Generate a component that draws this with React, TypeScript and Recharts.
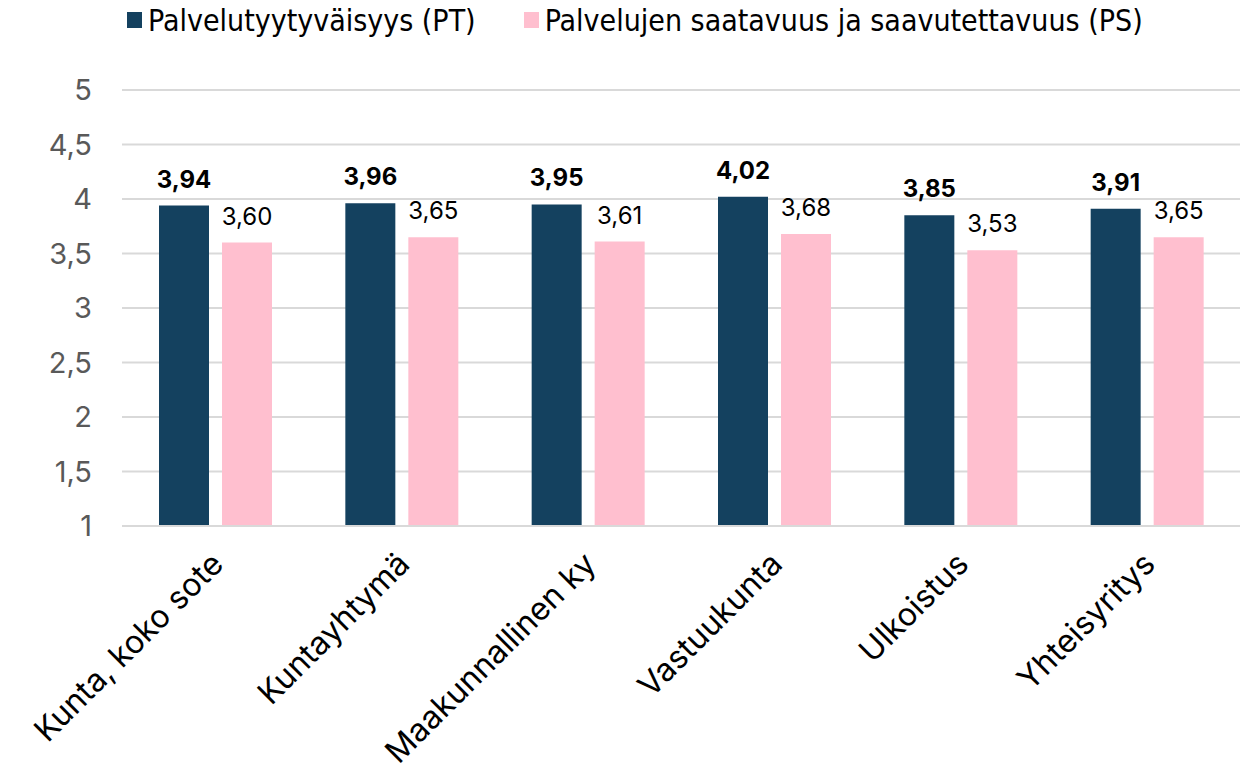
import React from 'react';
import { BarChart, Bar, XAxis, YAxis, CartesianGrid, Legend, LabelList } from 'recharts';

const categories = ['Kunta, koko sote', 'Kuntayhtymä', 'Maakunnallinen ky', 'Vastuukunta', 'Ulkoistus', 'Yhteisyritys'];
const ptValues = [3.94, 3.96, 3.95, 4.02, 3.85, 3.91];
const psValues = [3.60, 3.65, 3.61, 3.68, 3.53, 3.65];
const yTicks = [1, 1.5, 2, 2.5, 3, 3.5, 4, 4.5, 5];
const seriesNames = ['Palvelutyytyväisyys (PT)', 'Palvelujen saatavuus ja saavutettavuus (PS)'];

const data = categories.map((c, i) => ({ name: c, pt: ptValues[i], ps: psValues[i] }));

const DARK = '#14415F';
const PINK = '#FFBFCF';
const FONT = 'Inter, "Noto Sans", sans-serif';

const fmt = (v: number) => String(v).replace('.', ',');
const fmt2 = (v: number) => v.toFixed(2).replace('.', ',');

const XTick = (props: any) => {
  const { x, y, payload } = props;
  const ax = x + 10;
  const ay = y + 32;
  return (
    <text
      x={ax}
      y={ay}
      transform={`rotate(-45 ${ax} ${ay})`}
      textAnchor="end"
      fontSize={32}
      fontFamily={FONT}
      fill="#000"
    >
      {payload.value}
    </text>
  );
};

const LegendContent = () => (
  <div style={{ display: 'flex', alignItems: 'center', fontFamily: '"Liberation Sans Narrow", "DejaVu Sans Condensed", sans-serif', fontSize: 30, color: '#000', height: 40 }}>
    <span style={{ display: 'inline-block', width: 15, height: 16, background: DARK, marginRight: 6 }} />
    <span style={{ marginRight: 48 }}>{seriesNames[0]}</span>
    <span style={{ display: 'inline-block', width: 15, height: 16, background: PINK, marginRight: 6 }} />
    <span>{seriesNames[1]}</span>
  </div>
);

export default function App() {
  return (
    <div style={{ position: 'absolute', left: 0, top: 0, background: '#fff' }}>
      <BarChart width={1251} height={773} data={data} margin={{ top: 50, right: 11, left: 0, bottom: 0 }} barSize={50} barGap={13}>
        <Legend verticalAlign="top" align="left" content={<LegendContent />} wrapperStyle={{ left: 127, top: 0 }} />
        <CartesianGrid vertical={false} stroke="#D9D9D9" strokeWidth={2} />
        <XAxis dataKey="name" interval={0} tick={<XTick />} tickLine={false} axisLine={{ stroke: '#D9D9D9', strokeWidth: 2 }} height={247} />
        <YAxis domain={[1, 5]} ticks={yTicks} tickFormatter={fmt} axisLine={false} tickLine={false} width={122}
          tick={{ fontSize: 29, fill: '#595959', fontFamily: FONT }} tickMargin={24} />
        <Bar dataKey="pt" name={seriesNames[0]} fill={DARK} isAnimationActive={false}>
          <LabelList dataKey="pt" position="top" offset={18} formatter={fmt2} style={{ fontSize: 24, fontWeight: 700, fill: '#000', fontFamily: FONT }} />
        </Bar>
        <Bar dataKey="ps" name={seriesNames[1]} fill={PINK} isAnimationActive={false}>
          <LabelList dataKey="ps" position="top" offset={18} formatter={fmt2} style={{ fontSize: 24, fill: '#000', fontFamily: FONT }} />
        </Bar>
      </BarChart>
    </div>
  );
}
